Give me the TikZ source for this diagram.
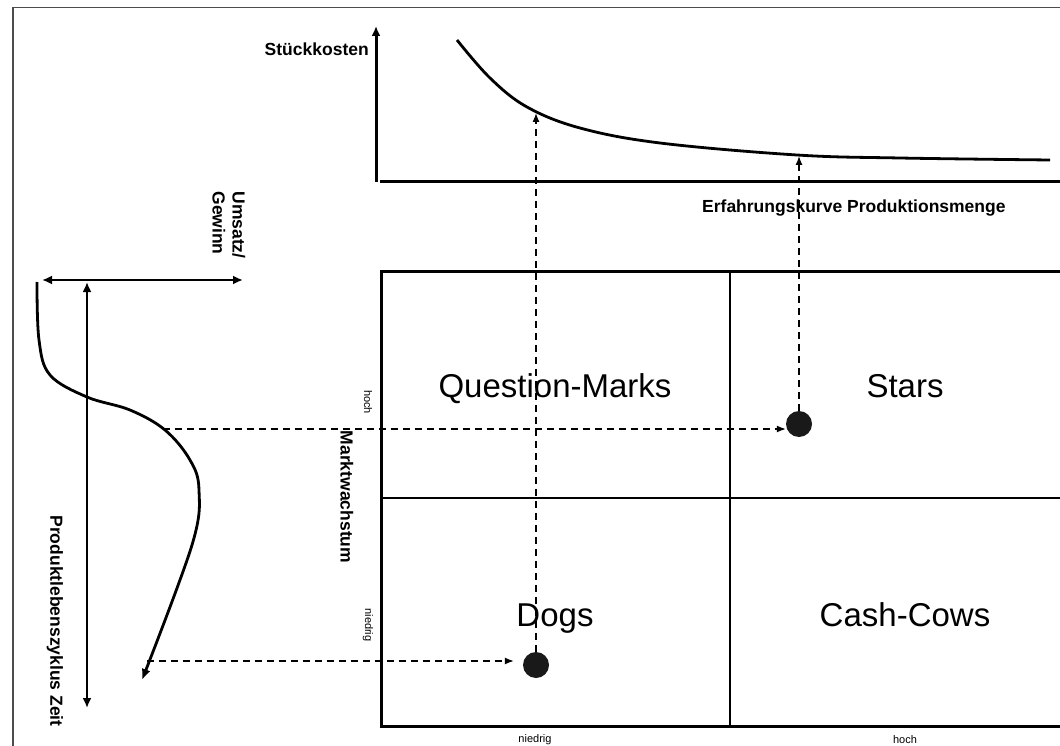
\documentclass[tikz,border=0pt]{standalone}
\usepackage{fontspec}
\setmainfont{Liberation Sans}
\usetikzlibrary{arrows.meta}

\tikzset{
  frame/.style={line width=1.5pt,black!70},
  axis/.style={line width=3pt,line join=miter},
  divider/.style={line width=1.2pt},
  curve/.style={line width=2.8pt},
  dblarrow/.style={line width=2.6pt},
  guide/.style={line width=1.3pt,dash pattern=on 7pt off 5pt},
  lbl/.style={font=\fontsize{17.5}{20}\bfseries\selectfont,inner sep=0pt},
  quad/.style={font=\fontsize{33}{36}\selectfont,inner sep=0pt,anchor=base},
  tiny/.style={font=\fontsize{11}{12}\selectfont,inner sep=0pt},
  dot/.style={circle,fill=black!90,minimum size=26pt,inner sep=0pt},
}

\begin{document}
\begin{tikzpicture}[x=1pt,y=-1pt]
	\useasboundingbox (0,0) rectangle (1060,746);
	\draw[frame] (13,746) -- (13,7.5) -- (1060,7.5);
	%
	% Erfahrungskurve
	\coordinate (ya) at (376,182);
	\coordinate (yt) at (376,26);
	\draw[axis,-{Latex[length=10pt,width=9pt]}] (ya) -- (yt);
	\draw[axis] (380,182) -- (1060,182);
	\node[lbl,anchor=base east] (stk) at (369,56) {Stückkosten};
	\draw[curve] plot[smooth,tension=0.6] coordinates {(457,40) (490,78) (527,107) (580,128) (660,143) (797,155) (900,158) (1050,160)};
	\coordinate (ek1) at (539,113);
	\coordinate (ek2) at (797,156);
	\node[lbl,anchor=base west] (erf) at (702,213) {Erfahrungskurve Produktionsmenge};
	%
	% Portfolio
	\draw[axis] (1060,271) -- (381,271) -- (381,726) -- (1060,726);
	\draw[divider] (730,271) -- (730,726);
	\draw[divider] (381,498) -- (1060,498);
	\node[quad] (qm) at (555,397) {Question-Marks};
	\node[quad] (st) at (905,397) {Stars};
	\node[quad] (dg) at (555,626) {Dogs};
	\node[quad] (cc) at (905,626) {Cash-Cows};
	\node[tiny,rotate=-90] (wh) at (368,402) {hoch};
	\node[tiny,rotate=-90] (wn) at (368,625) {niedrig};
	\node[lbl,rotate=-90] (mw) at (347,497) {Marktwachstum};
	\node[tiny] (an) at (535,740) {niedrig};
	\node[tiny] (ah) at (905,740) {hoch};
	\node[dot] (star) at (799,424) {};
	\node[dot] (dog) at (536,665) {};
	%
	% Lebenszyklus
	\coordinate (ha1) at (42,280);
	\coordinate (ha2) at (243,280);
	\coordinate (va1) at (87,282);
	\coordinate (va2) at (87,708);
	\draw[dblarrow,{Latex[length=10pt,width=9pt]}-{Latex[length=10pt,width=9pt]}] (ha1) -- (ha2);
	\draw[dblarrow,{Latex[length=10pt,width=9pt]}-{Latex[length=10pt,width=9pt]}] (va1) -- (va2);
	\node[lbl,rotate=-90,align=left] (ug) at (229,225) {Umsatz/\\Gewinn};
	\node[lbl,rotate=-90] (plz) at (55,621) {Produktlebenszyklus Zeit};
	\draw[curve,-{Latex[length=11pt,width=9pt]}] plot[smooth,tension=0.6] coordinates {(37,282) (39,340) (50,375) (87,397) (130,410) (165,430) (190,460) (199,490) (192,545) (142,680)};
	\coordinate (lz1) at (163,429);
	\coordinate (lz2) at (147,661);
	%
	\draw[guide,-{Latex[length=9pt,width=7pt]}] (lz1) -- (lz1 -| star.west);
	\draw[guide,-{Latex[length=9pt,width=7pt]},shorten >=9pt] (lz2) -- (lz2 -| dog.west);
	\draw[guide,-{Latex[length=9pt,width=7pt]}] (dog.north) -- (dog.north |- ek1);
	\draw[guide,-{Latex[length=9pt,width=7pt]}] (star.north) -- (star.north |- ek2);
\end{tikzpicture}
\end{document}
